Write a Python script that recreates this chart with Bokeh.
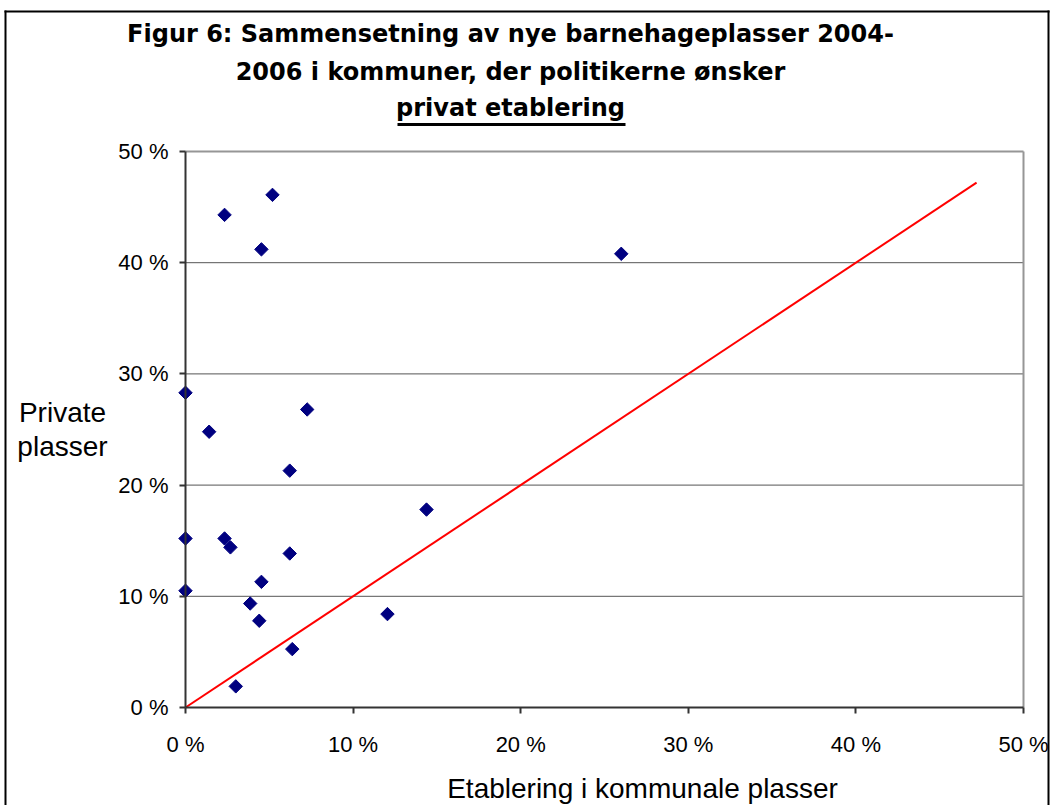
from bokeh.plotting import figure
from bokeh.models import Range1d, FixedTicker, Label
from bokeh.embed import file_html
from bokeh.resources import INLINE
import math

# ---- data ----
komm = [2.33, 5.19, 4.53, 26.0, 0.0, 1.41, 7.26, 6.22, 14.38, 0.0,
        2.33, 2.68, 6.22, 4.53, 0.0, 3.86, 4.40, 12.05, 6.37, 3.0]
priv = [44.3, 46.1, 41.2, 40.8, 28.3, 24.8, 26.8, 21.3, 17.8, 15.2,
        15.2, 14.4, 13.85, 11.3, 10.5, 9.35, 7.8, 8.4, 5.25, 1.9]
ref_x = [0, 47.2]
ref_y = [0, 47.2]
tick_values = [0, 10, 20, 30, 40, 50]
tick_labels = ["0 %", "10 %", "20 %", "30 %", "40 %", "50 %"]
title_lines = ["Figur 6: Sammensetning av nye barnehageplasser 2004-",
               "2006 i kommuner, der politikerne ønsker",
               "privat etablering"]
x_title = "Etablering i kommunale plasser"
y_title = ["Private", "plasser"]

# ---- geometry (page pixels) ----
W, H = 1052, 805
X0, X50, Y0, Y50 = 185.0, 1023.0, 707.0, 151.0
KX = (X50 - X0) / 50.0
KY = (Y0 - Y50) / 50.0
TXT_SHIFT = 10  # compensation for label baseline placement


def dx(px):
    return (px - X0) / KX


def dy(py):
    return (Y0 - py) / KY


p = figure(width=W, height=H, output_backend="svg", toolbar_location=None,
           x_range=Range1d(dx(0), dx(W)), y_range=Range1d(dy(H), dy(0)))
p.min_border = 0
p.min_border_left = 0
p.min_border_right = 0
p.min_border_top = 0
p.min_border_bottom = 0
p.title.visible = False
p.outline_line_color = None
p.background_fill_color = "white"
p.border_fill_color = "white"
p.xgrid.visible = False
p.ygrid.visible = False

# outer chart border
p.segment(x0=[dx(5), dx(4), dx(1048)], x1=[dx(5), dx(1049), dx(1048)],
          y0=[dy(10), dy(11), dy(10)], y1=[dy(830), dy(11), dy(830)],
          line_color="black", line_width=2)

# gridlines and plot border
grid_y = [t for t in tick_values if 0 < t < 50]
p.segment(x0=[0] * len(grid_y), x1=[50] * len(grid_y), y0=grid_y, y1=grid_y,
          line_color="#555555", line_width=1)
p.segment(x0=[0, 50], x1=[50, 50], y0=[50, 0], y1=[50, 50],
          line_color="#969696", line_width=2)

# reference line and points
p.line(ref_x, ref_y, line_color="#FF0000", line_width=2)
p.scatter(komm, priv, marker="square", size=9.5, angle=math.pi / 4,
          fill_color="#000080", line_color="#000080")

overrides = dict(zip(tick_values, tick_labels))
for ax in (p.xaxis[0], p.yaxis[0]):
    ax.fixed_location = 0
    ax.ticker = FixedTicker(ticks=tick_values)
    ax.bounds = (0, 50)
    ax.major_label_overrides = overrides
    ax.minor_tick_line_color = None
    ax.axis_line_color = "#333333"
    ax.axis_line_width = 2
    ax.major_tick_line_color = "#333333"
    ax.major_tick_line_width = 2
    ax.major_tick_in = 0
    ax.major_tick_out = 6
    ax.major_label_text_font = "Liberation Sans"
    ax.major_label_text_font_size = "22px"
    ax.major_label_text_color = "black"
p.xaxis[0].major_label_standoff = 18
p.yaxis[0].major_label_standoff = 11

# title
for txt, base in zip(title_lines, [43, 81, 117]):
    p.add_layout(Label(x=dx(510), y=dy(base - TXT_SHIFT), text=txt, text_align="center",
                       text_baseline="alphabetic", text_font="DejaVu Sans",
                       text_font_style="bold", text_font_size="24px",
                       text_color="black"))
p.segment(x0=[dx(397)], x1=[dx(625)], y0=[dy(124)], y1=[dy(124)],
          line_color="black", line_width=3)

# axis titles
p.add_layout(Label(x=dx(642), y=dy(798 - TXT_SHIFT), text=x_title, text_align="center",
                   text_baseline="alphabetic", text_font="Liberation Sans",
                   text_font_size="28px", text_color="black"))
for txt, base in zip(y_title, [422, 456]):
    p.add_layout(Label(x=dx(62), y=dy(base - TXT_SHIFT), text=txt, text_align="center",
                       text_baseline="alphabetic", text_font="Liberation Sans",
                       text_font_size="28px", text_color="black"))

open("out.html", "w").write(file_html(p, INLINE))
